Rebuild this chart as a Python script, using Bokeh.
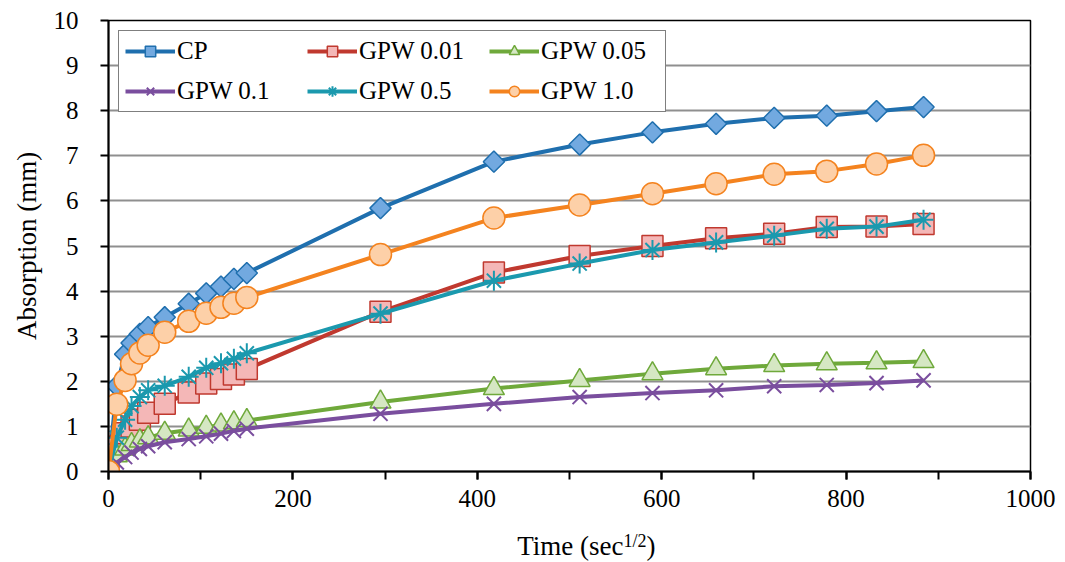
import numpy as np
from bokeh.plotting import figure
from bokeh.layouts import column
from bokeh.models import Label, SingleIntervalTicker, FixedTicker, Range1d
from bokeh.embed import file_html
from bokeh.resources import INLINE

# ---- data (time in sec^1/2, absorption in mm) ----
time = [0, 9, 18, 25, 34, 43, 61, 87, 106, 122, 136, 150, 295, 418, 511, 590, 659, 722, 779, 833, 884]
cp = [0, 1.9, 2.6, 2.85, 3.05, 3.2, 3.42, 3.72, 3.95, 4.1, 4.27, 4.4, 5.84, 6.87, 7.25, 7.52, 7.71, 7.84, 7.89, 7.99, 8.08]
gpw_001 = [0, 0.55, 0.85, 1.0, 1.15, 1.3, 1.5, 1.75, 1.95, 2.05, 2.15, 2.27, 3.54, 4.41, 4.78, 5.0, 5.17, 5.27, 5.42, 5.43, 5.49]
gpw_005 = [0, 0.35, 0.5, 0.6, 0.68, 0.75, 0.85, 0.92, 0.98, 1.03, 1.08, 1.13, 1.54, 1.84, 2.02, 2.17, 2.28, 2.35, 2.39, 2.41, 2.44]
gpw_01 = [0, 0.2, 0.32, 0.42, 0.5, 0.56, 0.65, 0.72, 0.78, 0.84, 0.9, 0.95, 1.28, 1.5, 1.65, 1.74, 1.80, 1.89, 1.92, 1.96, 2.02]
gpw_05 = [0, 0.75, 1.15, 1.45, 1.65, 1.8, 1.9, 2.1, 2.3, 2.4, 2.5, 2.62, 3.5, 4.23, 4.61, 4.91, 5.08, 5.23, 5.38, 5.43, 5.58]
gpw_10 = [0, 1.49, 2.02, 2.39, 2.63, 2.80, 3.09, 3.33, 3.51, 3.64, 3.73, 3.86, 4.81, 5.62, 5.91, 6.16, 6.38, 6.59, 6.66, 6.82, 7.01]

series_names = ["CP", "GPW 0.01", "GPW 0.05", "GPW 0.1", "GPW 0.5", "GPW 1.0"]
y_ticks = list(range(0, 11))

FONT = "Liberation Serif"

W = 1065
H_MAIN, H_TITLE = 522, 40
BL, BR = 108, 35
p = figure(width=W, height=H_MAIN, output_backend="svg", toolbar_location=None,
           x_range=Range1d(0, 1000), y_range=Range1d(0, 10),
           min_border_left=BL, min_border_right=BR, min_border_top=20, min_border_bottom=51)
p.background_fill_color = "white"
p.border_fill_color = "white"
p.outline_line_color = "black"
p.outline_line_width = 1.5

# grid
p.xgrid.grid_line_color = None
p.ygrid.grid_line_color = "#8f8f8f"
p.ygrid.grid_line_width = 2
p.ygrid.ticker = FixedTicker(ticks=y_ticks)

# x axis
p.xaxis.ticker = SingleIntervalTicker(interval=200, num_minor_ticks=2)
p.xaxis.major_tick_out = 8
p.xaxis.major_tick_in = 0
p.xaxis.minor_tick_out = 8
p.xaxis.minor_tick_in = 0
p.xaxis.minor_tick_line_color = "black"
p.xaxis.minor_tick_line_width = 2
p.xaxis.major_tick_line_width = 2
p.xaxis.axis_line_width = 2
p.xaxis.major_label_standoff = 10

# y axis
p.yaxis.ticker = FixedTicker(ticks=y_ticks)
p.yaxis.major_tick_out = 8
p.yaxis.major_tick_in = 0
p.yaxis.minor_tick_line_color = None
p.yaxis.major_tick_line_width = 2
p.yaxis.axis_line_width = 2
p.yaxis.major_label_standoff = 22
p.yaxis.axis_label = "Absorption (mm)"
p.yaxis.axis_label_text_font = FONT
p.yaxis.axis_label_text_font_size = "27px"
p.yaxis.axis_label_text_font_style = "normal"
p.yaxis.axis_label_text_color = "black"
p.yaxis.axis_label_standoff = 9

for ax in (p.xaxis, p.yaxis):
    ax.axis_line_color = "black"
    ax.major_tick_line_color = "black"
    ax.major_label_text_font = FONT
    ax.major_label_text_font_size = "25px"
    ax.major_label_text_color = "black"

LW = 4
# CP
p.line(time, cp, line_color="#1f6fae", line_width=LW, legend_label=series_names[0])
p.scatter(time, cp, marker="square", angle=np.pi / 4, size=15, fill_color="#72a9e0",
          line_color="#1f6fae", line_width=1.5, legend_label=series_names[0])
# GPW 0.01
p.line(time, gpw_001, line_color="#c0392f", line_width=LW, legend_label=series_names[1])
p.scatter(time, gpw_001, marker="square", size=21, fill_color="#f4b7b7",
          line_color="#c0392f", line_width=1.5, legend_label=series_names[1])
# GPW 0.05
p.line(time, gpw_005, line_color="#6fa93b", line_width=LW, legend_label=series_names[2])
p.scatter(time, gpw_005, marker="triangle", size=21, fill_color="#d5e7c3",
          line_color="#6fa93b", line_width=1.5, legend_label=series_names[2])
# GPW 0.1
p.line(time, gpw_01, line_color="#7a4e9e", line_width=LW, legend_label=series_names[3])
p.scatter(time, gpw_01, marker="x", size=20, line_color="#7a4e9e", line_width=2,
          legend_label=series_names[3])
# GPW 0.5
p.line(time, gpw_05, line_color="#1b99ae", line_width=LW, legend_label=series_names[4])
p.scatter(time, gpw_05, marker="asterisk", size=20, line_color="#1b99ae", line_width=2,
          legend_label=series_names[4])
# GPW 1.0
p.line(time, gpw_10, line_color="#f4831f", line_width=LW, legend_label=series_names[5])
p.scatter(time, gpw_10, marker="circle", size=22, fill_color="#fdd0a8",
          line_color="#f4831f", line_width=1.5, legend_label=series_names[5])

lg = p.legend[0]
lg.orientation = "horizontal"
lg.ncols = 3
lg.location = "top_left"
lg.margin = 10
lg.padding = 6
lg.spacing = 12
lg.glyph_width = 50
lg.glyph_height = 26
lg.label_height = 26
lg.label_width = 118
lg.label_standoff = 2
lg.label_text_font = FONT
lg.label_text_font_size = "25px"
lg.label_text_color = "black"
lg.border_line_color = "black"
lg.border_line_width = 1.5
lg.background_fill_color = "white"
lg.background_fill_alpha = 1.0

# ---- x axis title strip (with superscript) ----
t = figure(width=W, height=H_TITLE, output_backend="svg", toolbar_location=None,
           x_axis_location=None, y_axis_location=None,
           min_border_left=BL, min_border_right=BR, min_border_top=0, min_border_bottom=0)
t.outline_line_color = None
t.grid.visible = False
t.background_fill_color = "white"
t.border_fill_color = "white"
lab = dict(x_units="screen", y_units="screen", text_font=FONT, text_color="black",
           text_baseline="middle")
t.add_layout(Label(x=515, y=17, text="Time (sec", text_align="right", text_font_size="27px", **lab))
t.add_layout(Label(x=515, y=22, text="1/2", text_align="left", text_font_size="18px", **lab))
t.add_layout(Label(x=538, y=17, text=")", text_align="left", text_font_size="27px", **lab))

page = column(p, t, spacing=0)
open("out.html", "w").write(file_html(page, INLINE))
